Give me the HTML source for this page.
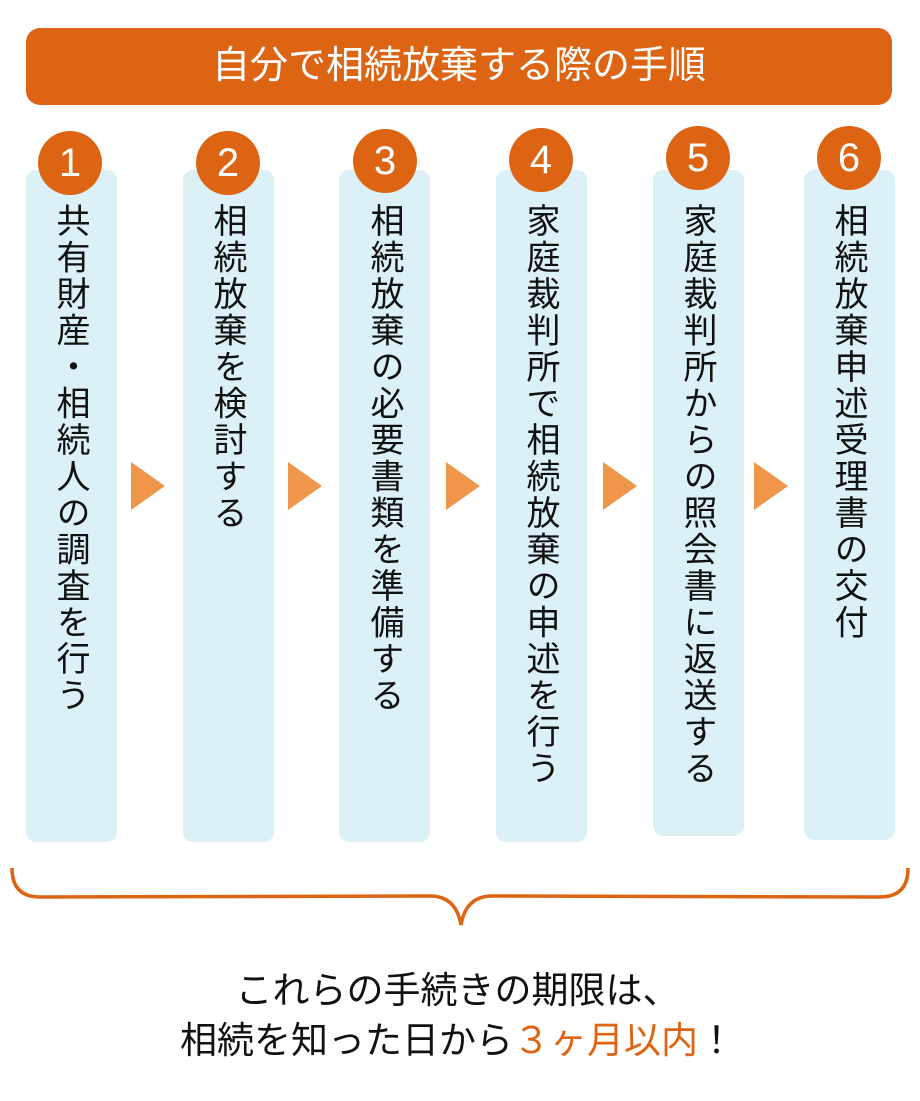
<!DOCTYPE html>
<html><head><meta charset="utf-8"><style>
body{margin:0;width:920px;height:1101px;background:#fff;position:relative;overflow:hidden;font-family:"Liberation Sans","Noto Sans CJK JP",sans-serif;}
.hdr{position:absolute;left:26px;top:28px;width:866px;height:77px;background:#dd6413;border-radius:14px;color:#fff;font-size:38px;text-align:center;line-height:77px;}
.col{position:absolute;top:170px;width:91px;background:#dcf0f7;border-radius:10px;}
.num{position:absolute;width:64px;height:64px;border-radius:50%;background:#dd6413;color:#fff;font-size:40px;text-align:center;line-height:64px;}
.txt{position:absolute;top:203px;writing-mode:vertical-rl;font-size:34px;line-height:36px;letter-spacing:2.5px;color:#111;width:36px;}
.arr{position:absolute;top:462px;width:0;height:0;border-top:24px solid transparent;border-bottom:24px solid transparent;border-left:34px solid #f0964a;}
.bt{position:absolute;left:0;width:915px;text-align:center;font-size:37px;color:#111;}
</style></head><body>
<div class="hdr">自分で相続放棄する際の手順</div>
<div class="col" style="left:26px;height:672px"></div>
<div class="col" style="left:183px;height:672px"></div>
<div class="col" style="left:339px;height:672px"></div>
<div class="col" style="left:496px;height:672px"></div>
<div class="col" style="left:653px;height:666px"></div>
<div class="col" style="left:804px;height:670px"></div>
<div class="num" style="left:38px;top:131px">1</div>
<div class="num" style="left:196px;top:131px">2</div>
<div class="num" style="left:353px;top:129px">3</div>
<div class="num" style="left:509px;top:128px">4</div>
<div class="num" style="left:666px;top:126px">5</div>
<div class="num" style="left:817px;top:126px">6</div>
<div class="txt" style="left:52px">共有財産・相続人の調査を行う</div>
<div class="txt" style="left:209px">相続放棄を検討する</div>
<div class="txt" style="left:366px">相続放棄の必要書類を準備する</div>
<div class="txt" style="left:522px">家庭裁判所で相続放棄の申述を行う</div>
<div class="txt" style="left:679px">家庭裁判所からの照会書に返送する</div>
<div class="txt" style="left:830px">相続放棄申述受理書の交付</div>
<div class="arr" style="left:131px"></div>
<div class="arr" style="left:288px"></div>
<div class="arr" style="left:446px"></div>
<div class="arr" style="left:603px"></div>
<div class="arr" style="left:754px"></div>
<svg style="position:absolute;left:0;top:0" width="920" height="1101">
<path d="M12,868 Q12,897 40,897 L430,896 Q456,896 461,925 Q466,896 492,896 L880,897 Q908,897 908,868" fill="none" stroke="#dd6413" stroke-width="3.5"/>
</svg>
<div class="bt" style="top:960px">これらの手続きの期限は、</div>
<div class="bt" style="top:1010px">相続を知った日から<span style="color:#dd6413">３ヶ月以内</span>！</div>
</body></html>
